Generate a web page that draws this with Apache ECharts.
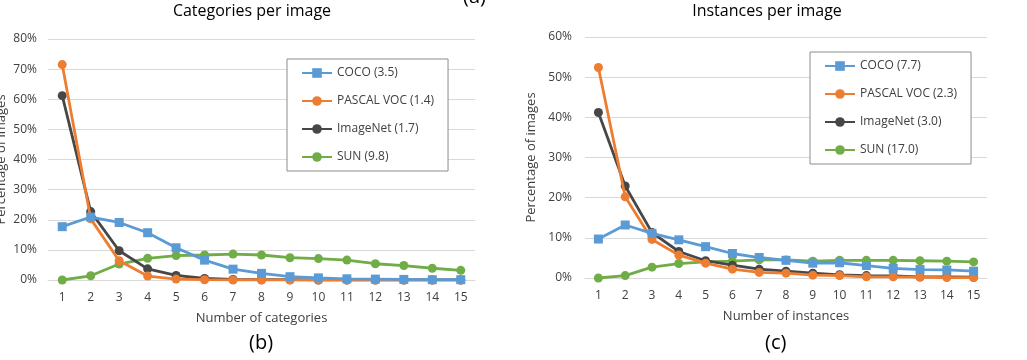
<!DOCTYPE html>
<html>
<head>
<meta charset="utf-8">
<script src="https://cdn.jsdelivr.net/npm/echarts@6/dist/echarts.min.js"></script>
<style>
html,body{margin:0;padding:0;background:#fff;}
#chart{width:1027px;height:360px;}
</style>
</head>
<body>
<div id="chart"></div>
<script>
const categories = ['1','2','3','4','5','6','7','8','9','10','11','12','13','14','15'];

// (b) Categories per image (percent)
const catCOCO     = [17.7, 20.9, 19.1, 15.7, 10.7, 6.6, 3.6, 2.2, 1.1, 0.7, 0.4, 0.3, 0.2, 0.1, 0.1];
const catPASCAL   = [71.5, 20.3, 6.4, 1.3, 0.3, 0.1, 0.0, 0.0, 0.0, 0.0, 0.0, 0.0, 0.0, 0.0, 0.0];
const catImageNet = [61.2, 22.7, 9.7, 3.7, 1.5, 0.5, 0.2, 0.1, 0.1, 0.0, 0.0, 0.0, 0.0, 0.0, 0.0];
const catSUN      = [0.0, 1.4, 5.3, 7.2, 8.1, 8.3, 8.6, 8.3, 7.4, 7.1, 6.6, 5.4, 4.8, 3.9, 3.2];
const catNames = ['COCO (3.5)', 'PASCAL VOC (1.4)', 'ImageNet (1.7)', 'SUN (9.8)'];

// (c) Instances per image (percent)
const insCOCO     = [9.7, 13.2, 11.1, 9.5, 7.8, 6.1, 5.1, 4.4, 3.7, 3.8, 3.1, 2.4, 2.1, 2.0, 1.7];
const insPASCAL   = [52.4, 20.2, 9.6, 5.7, 3.7, 2.2, 1.4, 1.2, 0.7, 0.6, 0.3, 0.3, 0.2, 0.1, 0.1];
const insImageNet = [41.2, 22.9, 11.3, 6.6, 4.3, 3.2, 2.2, 1.7, 1.2, 0.8, 0.6, 0.5, 0.3, 0.3, 0.2];
const insSUN      = [0.0, 0.6, 2.7, 3.6, 4.0, 4.2, 4.5, 4.5, 4.2, 4.4, 4.4, 4.4, 4.3, 4.2, 4.0];
const insNames = ['COCO (7.7)', 'PASCAL VOC (2.3)', 'ImageNet (3.0)', 'SUN (17.0)'];

const yTicksCat = [0, 80, 10];
const yTicksIns = [0, 60, 10];

const FONT = 'Open Sans';
const colors = ['#5B9BD5', '#ED7D31', '#474747', '#70AD47'];
const symbols = ['rect', 'circle', 'circle', 'circle'];

function mkSeries(names, datas, idx) {
  return names.map((n, i) => ({
    name: n, type: 'line', xAxisIndex: idx, yAxisIndex: idx,
    data: datas[i], symbol: symbols[i], symbolSize: 9,
    showSymbol: true,
    lineStyle: { width: 2.8, color: colors[i] },
    itemStyle: { color: colors[i], borderWidth: 0 },
    emphasis: { disabled: true },
    z: 10 - i
  }));
}

const chart = echarts.init(document.getElementById('chart'), null, { renderer: 'canvas' });

function xAxis(idx, name) {
  return {
    type: 'category', gridIndex: idx, data: categories, boundaryGap: true,
    axisLine: { show: true, lineStyle: { color: '#d9d9d9', width: 1 } },
    axisTick: { show: false },
    axisLabel: { color: '#404040', fontFamily: FONT, fontSize: 12, margin: 12 },
    name: name, nameLocation: 'middle', nameGap: 32,
    nameTextStyle: { color: '#404040', fontFamily: FONT, fontSize: 13 }
  };
}
function yAxis(idx, t, gap, margin) {
  return {
    type: 'value', gridIndex: idx, min: t[0], max: t[1], interval: t[2],
    axisLine: { show: false }, axisTick: { show: false },
    splitLine: { lineStyle: { color: '#d9d9d9', width: 1 } },
    axisLabel: { formatter: '{value}%', color: '#404040', fontFamily: FONT, fontSize: 12, margin: margin },
    name: 'Percentage of images', nameLocation: 'middle', nameGap: gap, nameRotate: 90,
    nameTextStyle: { color: '#404040', fontFamily: FONT, fontSize: 13 }
  };
}
function legend(names, left, top) {
  return {
    data: names, orient: 'vertical', left: left, top: top,
    itemWidth: 30, itemHeight: 12, itemGap: 16,
    padding: [8, 14, 8, 14],
    borderColor: '#8c8c8c', borderWidth: 1, backgroundColor: '#fff',
    textStyle: { color: '#404040', fontFamily: FONT, fontSize: 12 },
    selectedMode: false
  };
}

chart.setOption({
  animation: false,
  backgroundColor: '#fff',
  title: [
    { text: 'Categories per image', left: 247, top: -2, textAlign: 'center',
      textStyle: { color: '#000', fontFamily: FONT, fontSize: 16, fontWeight: 'normal' } },
    { text: 'Instances per image', left: 762, top: -2, textAlign: 'center',
      textStyle: { color: '#000', fontFamily: FONT, fontSize: 16, fontWeight: 'normal' } }
  ],
  grid: [
    { left: 48, right: 552, top: 39, bottom: 80, outerBoundsMode: 'none', containLabel: false },
    { left: 585, right: 40, top: 37, bottom: 82, outerBoundsMode: 'none', containLabel: false }
  ],
  xAxis: [xAxis(0, 'Number of categories'), xAxis(1, 'Number of instances')],
  yAxis: [yAxis(0, yTicksCat, 40, 11), yAxis(1, yTicksIns, 47, 13)],
  legend: [legend(catNames, 287, 59), legend(insNames, 810, 52)],
  series: [
    ...mkSeries(catNames, [catCOCO, catPASCAL, catImageNet, catSUN], 0),
    ...mkSeries(insNames, [insCOCO, insPASCAL, insImageNet, insSUN], 1)
  ],
  graphic: [
    { type: 'text', left: 463, top: -13, style: { text: '(a)', font: '20px "Open Sans"', fill: '#000' } },
    { type: 'text', left: 249, top: 333, style: { text: '(b)', font: '20px "Open Sans"', fill: '#000' } },
    { type: 'text', left: 765, top: 333, style: { text: '(c)', font: '20px "Open Sans"', fill: '#000' } }
  ]
});
</script>
</body>
</html>
